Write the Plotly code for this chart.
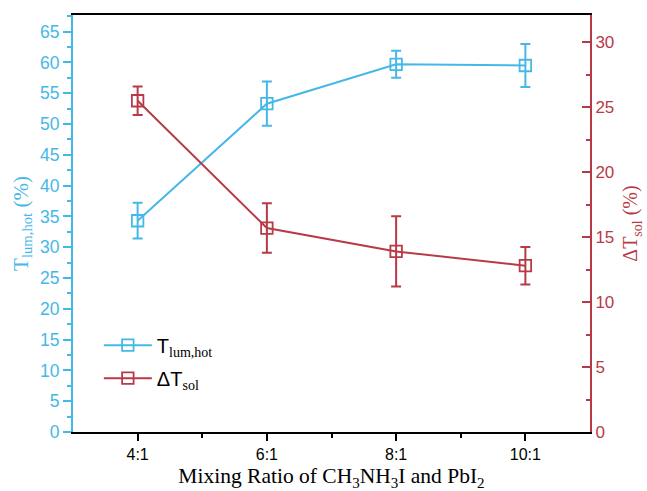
import plotly.graph_objects as go

ratios = [4, 6, 8, 10]
tick_labels = ["4:1", "6:1", "8:1", "10:1"]
t_lum = [34.3, 53.3, 59.7, 59.5]
t_lum_err = [2.9, 3.6, 2.2, 3.5]
dt_sol = [25.5, 15.7, 13.9, 12.8]
dt_sol_err = [1.1, 1.9, 2.7, 1.45]

BLUE = "#45B8E8"
RED = "#B83A46"
SERIF = "Liberation Serif, Times New Roman, serif"
SANS = "Liberation Sans, Arial, sans-serif"

fig = go.Figure()
fig.add_trace(go.Scatter(
    x=ratios, y=t_lum, mode="lines+markers",
    name="T<sub><span style='font-family:Liberation Serif'>lum,hot</span></sub>",
    legendgroup="a",
    line=dict(color=BLUE, width=2),
    marker=dict(symbol="square-open", size=11.5, color=BLUE, line=dict(width=1.8, color=BLUE)),
    error_y=dict(type="data", array=t_lum_err, color=BLUE, thickness=2, width=5),
    yaxis="y",
))
fig.add_trace(go.Scatter(
    x=ratios, y=dt_sol, mode="lines+markers",
    name="ΔT<sub><span style='font-family:Liberation Serif'>sol</span></sub>",
    legendgroup="b",
    line=dict(color=RED, width=2),
    marker=dict(symbol="square-open", size=11.5, color=RED, line=dict(width=1.8, color=RED)),
    error_y=dict(type="data", array=dt_sol_err, color=RED, thickness=2, width=5),
    yaxis="y2",
))

fig.update_layout(
    width=647, height=491,
    margin=dict(l=73, r=57, t=15, b=59, autoexpand=False),
    paper_bgcolor="white", plot_bgcolor="white",
    showlegend=True,
    legend=dict(x=0.05, y=0.255, xanchor="left", yanchor="top",
                bgcolor="rgba(0,0,0,0)", font=dict(family=SANS, size=20, color="black"),
                traceorder="grouped", tracegroupgap=4, itemwidth=48),
    xaxis=dict(
        range=[3, 11], tickvals=ratios, ticktext=tick_labels, automargin=False,
        showline=True, linecolor="black", linewidth=2, mirror=True,
        ticks="outside", ticklen=7, tickwidth=2, tickcolor="black",
        minor=dict(tickvals=[5, 7, 9], ticks="outside", ticklen=4, tickwidth=2, tickcolor="black"),
        showgrid=False, zeroline=False,
        tickfont=dict(family=SANS, size=16, color="black"),
        title=dict(text="Mixing Ratio of CH<sub>3</sub>NH<sub>3</sub>I and PbI<sub>2</sub>",
                   font=dict(family=SERIF, size=21.5, color="black"), standoff=9),
    ),
    yaxis=dict(
        range=[0, 67.7], dtick=5, tick0=0, automargin=False,
        showline=True, linecolor=BLUE, linewidth=2,
        ticks="outside", ticklen=8, tickwidth=2, tickcolor=BLUE,
        minor=dict(dtick=2.5, ticks="outside", ticklen=4, tickwidth=2, tickcolor=BLUE),
        showgrid=False, zeroline=False,
        tickfont=dict(family=SANS, size=17.5, color=BLUE),
        title=dict(text="T<sub>lum,hot</sub> (%)", font=dict(family=SERIF, size=21, color=BLUE), standoff=6),
    ),
    yaxis2=dict(
        range=[0, 32.1], dtick=5, tick0=0, overlaying="y", side="right", automargin=False,
        showline=True, linecolor=RED, linewidth=2,
        ticks="inside", ticklen=8, tickwidth=2, tickcolor=RED,
        minor=dict(dtick=2.5, ticks="inside", ticklen=4, tickwidth=2, tickcolor=RED),
        showgrid=False, zeroline=False,
        tickfont=dict(family=SANS, size=17, color=RED),
        title=dict(text="ΔT<sub>sol</sub> (%)", font=dict(family=SERIF, size=20, color=RED), standoff=10),
    ),
)

fig.write_html("out.html")
